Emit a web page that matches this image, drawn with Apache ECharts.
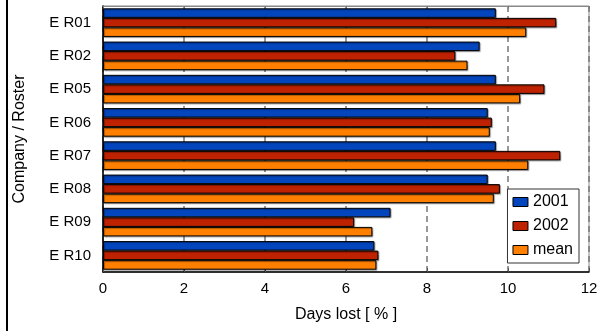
<!DOCTYPE html>
<html><head><meta charset="utf-8">
<script src="https://cdn.jsdelivr.net/npm/echarts@6/dist/echarts.min.js"></script>
<style>html,body{margin:0;padding:0;background:#fff}#c{width:613px;height:331px}</style>
</head><body><div id="c"></div>
<script>
var categories = ['E R01','E R02','E R05','E R06','E R07','E R08','E R09','E R10'];
var s2001 = [9.70, 9.30, 9.70, 9.50, 9.70, 9.50, 7.10, 6.70];
var s2002 = [11.19, 8.70, 10.90, 9.60, 11.29, 9.80, 6.20, 6.80];
var sMean = [10.45, 9.00, 10.30, 9.55, 10.50, 9.65, 6.65, 6.75];
var xTicks = [0, 2, 4, 6, 8, 10, 12];

var FONT = "'Liberation Sans', Arial, sans-serif";
var chart = echarts.init(document.getElementById('c'), null, {renderer: 'canvas'});
function bar(name, data, color) {
  return {
    name: name, type: 'bar', data: data, barGap: 0, barCategoryGap: '14%',
    itemStyle: {color: color, borderColor: '#000', borderWidth: 1,
      shadowColor: 'rgba(0,0,0,0.35)', shadowOffsetX: 1, shadowOffsetY: 1, shadowBlur: 1},
    emphasis: {disabled: true}, animation: false
  };
}
chart.setOption({
  animation: false,
  textStyle: {fontFamily: FONT},
  grid: {left: 103, right: 24, top: 6, bottom: 59, show: true, borderColor: '#888', borderWidth: 1, backgroundColor: '#fff'},
  legend: {
    orient: 'vertical', right: 34, top: 189,
    data: ['2001', '2002', 'mean'], icon: 'rect',
    itemWidth: 15, itemHeight: 9, itemGap: 8,
    padding: [5, 6, 5, 5],
    backgroundColor: '#fff', borderColor: '#333', borderWidth: 1, borderRadius: 0,
    textStyle: {fontSize: 16, color: '#000', fontFamily: FONT},
    itemStyle: {borderColor: '#000', borderWidth: 1, shadowBlur: 0, shadowOffsetX: 0, shadowOffsetY: 0}
  },
  xAxis: [{
    type: 'value', min: xTicks[0], max: xTicks[xTicks.length - 1], interval: 2,
    name: 'Days lost [ % ]', nameLocation: 'middle', nameGap: 35,
    nameTextStyle: {fontSize: 16, color: '#000', fontFamily: FONT},
    axisLine: {show: true, lineStyle: {color: '#000', width: 1.5}},
    axisTick: {show: true, inside: true, length: 4, lineStyle: {color: '#555'}},
    axisLabel: {fontSize: 15, color: '#000', margin: 9, fontFamily: FONT},
    splitLine: {show: true, lineStyle: {color: '#777', width: 1.5, type: [6, 4]}}
  }, {
    type: 'value', position: 'top', min: xTicks[0], max: xTicks[xTicks.length - 1], interval: 2,
    axisLine: {show: true, lineStyle: {color: '#888', width: 1}},
    axisTick: {show: true, inside: true, length: 3, lineStyle: {color: '#777'}},
    axisLabel: {show: false}, splitLine: {show: false}
  }],
  yAxis: {
    type: 'category', data: categories, inverse: true,
    name: 'Company / Roster', nameLocation: 'middle', nameGap: 75,
    nameTextStyle: {fontSize: 16, color: '#000', fontFamily: FONT},
    axisLine: {show: true, lineStyle: {color: '#000', width: 1.5}},
    axisTick: {show: false},
    axisLabel: {fontSize: 15, color: '#000', margin: 12, fontFamily: FONT}
  },
  graphic: [{type: 'rect', shape: {x: 6, y: 0, width: 2, height: 331}, style: {fill: '#000'}, silent: true}],
  series: [bar('2001', s2001, '#0345bd'), bar('2002', s2002, '#bf2200'), bar('mean', sMean, '#ff8000')]
});
</script></body></html>
